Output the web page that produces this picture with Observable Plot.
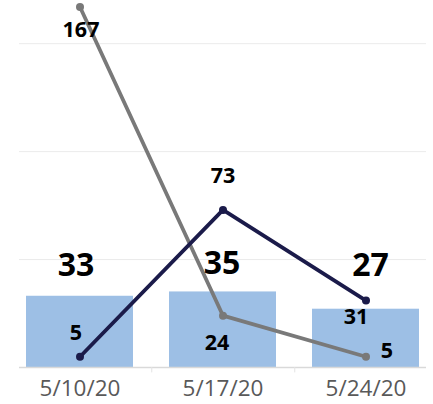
<!DOCTYPE html>
<html>
<head>
<meta charset="utf-8">
<script src="https://cdn.jsdelivr.net/npm/d3@7"></script>
<script src="https://cdn.jsdelivr.net/npm/@observablehq/plot@0.6"></script>
<style>
  html, body { margin: 0; padding: 0; background: #fff; }
</style>
</head>
<body>
<div id="chart"></div>
<script>
const dates = ["5/10/20", "5/17/20", "5/24/20"];
const barValues = [33, 35, 27];
const navyValues = [5, 73, 31];
const grayValues = [167, 24, 5];
const gridValues = [50, 100, 150];

const BAR = "#9dbfe5";
const NAVY = "#1b1b4a";
const GRAY = "#797979";

const bars = dates.map((d, i) => ({date: d, value: barValues[i]}));
const navy = dates.map((d, i) => ({date: d, value: navyValues[i]}));
const gray = dates.map((d, i) => ({date: d, value: grayValues[i]}));

// one label for one point, with its own offset
function lab(rows, i, dx, dy, fontSize) {
  return Plot.text([rows[i]], {
    x: "date", y: "value", text: d => String(d.value),
    dx, dy, fontSize, fontWeight: "bold", fill: "#000", textAnchor: "middle"
  });
}

const chart = Plot.plot({
  width: 433,
  height: 404,
  marginTop: 0,
  marginBottom: 37,
  marginLeft: 19,
  marginRight: 7,
  style: {fontFamily: "'Open Sans', 'Noto Sans', sans-serif", color: "#595959", background: "#fff"},
  x: {type: "band", domain: dates, paddingInner: 0.25, paddingOuter: 0.043, axis: null, label: null},
  y: {domain: [0, 170], axis: null},
  marks: [
    Plot.ruleY(gridValues, {stroke: "#ebebeb", strokeWidth: 1}),
    Plot.barY(bars, {x: "date", y: "value", fill: BAR}),
    Plot.ruleY([0], {stroke: "#d9d9d9", strokeWidth: 1.5}),
    Plot.ruleX(dates.slice(0, 2), {x: d => d, y1: 0, y2: -2.5, dx: 71.75, stroke: "#e3e3e3"}),
    Plot.axisX({tickSize: 0, tickPadding: 13, fontSize: 22.5, fill: "#595959", label: null}),
    Plot.line(gray, {x: "date", y: "value", stroke: GRAY, strokeWidth: 3.8}),
    Plot.dot(gray, {x: "date", y: "value", r: 4, fill: GRAY}),
    Plot.line(navy, {x: "date", y: "value", stroke: NAVY, strokeWidth: 3.8}),
    Plot.dot(navy, {x: "date", y: "value", r: 4, fill: NAVY}),
    lab(bars, 0, -4, -31, 32),
    lab(bars, 1, -1, -28.5, 32),
    lab(bars, 2, 4.5, -43, 32),
    lab(navy, 0, -4, -24, 21.5),
    lab(navy, 1, 0, -34, 21.5),
    lab(navy, 2, -10, 17, 21.5),
    lab(gray, 0, 1, 23, 21.5),
    lab(gray, 1, -6, 27, 21.5),
    lab(gray, 2, 21, -6, 21.5)
  ]
});
document.getElementById("chart").appendChild(chart);
</script>
</body>
</html>
